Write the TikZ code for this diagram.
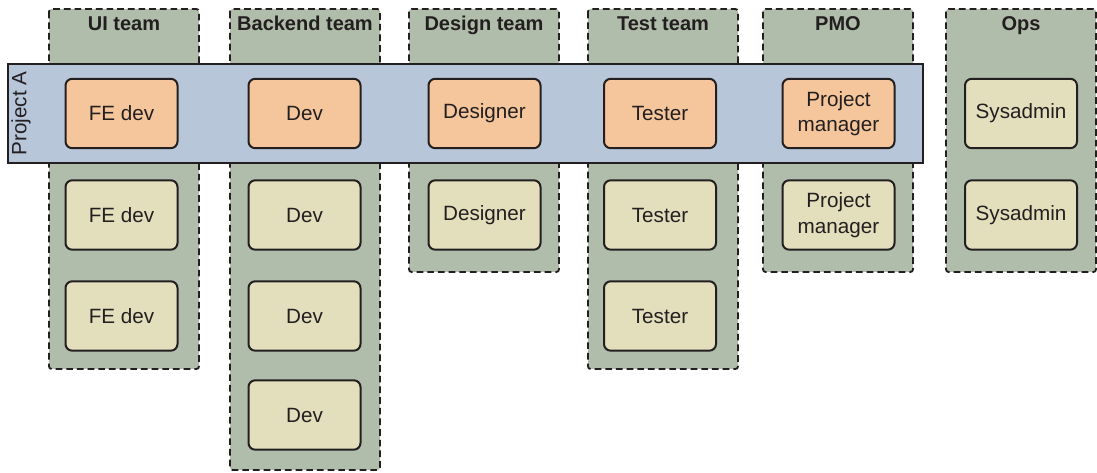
\documentclass[tikz,border=0pt]{standalone}
\usepackage{fontspec}
\setmainfont{Liberation Sans}
\definecolor{colfill}{HTML}{AFBDAA}
\definecolor{bandfill}{HTML}{B8C6D9}
\definecolor{orangefill}{HTML}{F5C69B}
\definecolor{creamfill}{HTML}{E3DFBD}
\definecolor{ink}{HTML}{231F20}
\tikzset{
  teamcol/.style={draw=ink, fill=colfill, line width=1.4pt, dash pattern=on 5pt off 3pt, rounded corners=2pt},
  teamtitle/.style={font=\bfseries\fontsize{15}{17}\selectfont, text=ink, anchor=base, inner sep=0pt},
  role/.style={draw=ink, line width=1.5pt, rounded corners=5pt, minimum width=84pt, minimum height=52pt, inner sep=0pt, align=center, text=ink, font=\fontsize{15.5}{19}\selectfont},
  projrole/.style={role, fill=orangefill},
  freerole/.style={role, fill=creamfill},
  band/.style={draw=ink, fill=bandfill, line width=1.2pt},
}
\begin{document}
\begin{tikzpicture}[x=0.75pt,y=-0.75pt]
\useasboundingbox (0,0) rectangle (1097,473);
% team columns
\draw[teamcol] (49,9) rectangle (199,369);
\draw[teamcol] (230,9) rectangle (380,470);
\draw[teamcol] (409,9) rectangle (559,272);
\draw[teamcol] (588,9) rectangle (738,369);
\draw[teamcol] (763,9) rectangle (913,272);
\draw[teamcol] (946,9) rectangle (1096,272);
\node[teamtitle] (tui) at (124,31) {UI team};
\node[teamtitle] (tbe) at (305,31) {Backend team};
\node[teamtitle] (tde) at (484,31) {Design team};
\node[teamtitle] (tte) at (663,31) {Test team};
\node[teamtitle] (tpm) at (838,31) {PMO};
\node[teamtitle] (tops) at (1021,31) {Ops};
% project band
\draw[band] (8,64) rectangle (923,163);
\node[rotate=90, text=ink, font=\fontsize{15.5}{19}\selectfont] (proj) at (21,113.5) {Project A};
% project roles
\node[projrole] (p1) at (121.5,113.5) {FE dev};
\node[projrole] (p2) at (304.5,113.5) {Dev};
\node[projrole] (p3) at (484.5,113.5) {Designer};
\node[projrole] (p4) at (660,113.5) {Tester};
\node[projrole] (p5) at (838.5,113.5) {Project\\manager};
% other roles
\node[freerole] (u2) at (121.5,215) {FE dev};
\node[freerole] (u3) at (121.5,316) {FE dev};
\node[freerole] (b2) at (304.5,215) {Dev};
\node[freerole] (b3) at (304.5,316) {Dev};
\node[freerole] (b4) at (304.5,415) {Dev};
\node[freerole] (d2) at (484.5,215) {Designer};
\node[freerole] (t2) at (660,215) {Tester};
\node[freerole] (t3) at (660,316) {Tester};
\node[freerole] (m2) at (838.5,215) {Project\\manager};
\node[freerole] (s1) at (1021,113.5) {Sysadmin};
\node[freerole] (s2) at (1021,215) {Sysadmin};
\end{tikzpicture}
\end{document}
